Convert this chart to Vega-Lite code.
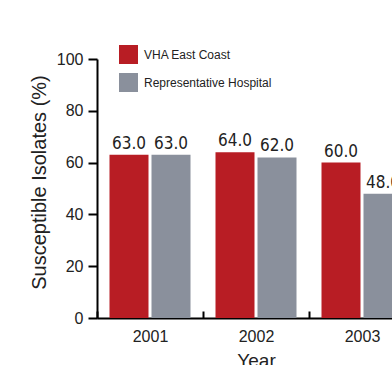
{
  "$schema": "https://vega.github.io/schema/vega-lite/v6.json",
  "autosize": "none",
  "width": 295,
  "height": 259,
  "padding": {"left": 97, "top": 59, "right": 0, "bottom": 47},
  "background": "white",
  "data": {
    "values": [
      {"year": "2001", "series": "VHA East Coast", "value": 63.0},
      {"year": "2001", "series": "Representative Hospital", "value": 63.0},
      {"year": "2002", "series": "VHA East Coast", "value": 64.0},
      {"year": "2002", "series": "Representative Hospital", "value": 62.0},
      {"year": "2003", "series": "VHA East Coast", "value": 60.0},
      {"year": "2003", "series": "Representative Hospital", "value": 48.0}
    ]
  },
  "encoding": {
    "x": {
      "field": "year",
      "type": "nominal",
      "scale": {"range": [0, 318], "paddingInner": 0, "paddingOuter": 0},
      "axis": {
        "title": "Year",
        "labelAngle": 0,
        "tickBand": "extent",
        "tickSize": -7,
        "labelPadding": 17,
        "titlePadding": 7,
        "titleFontSize": 19
      }
    },
    "xOffset": {
      "field": "series",
      "type": "nominal",
      "sort": ["VHA East Coast", "Representative Hospital"],
      "scale": {"paddingInner": 0.0714, "paddingOuter": 0.2976}
    },
    "y": {
      "field": "value",
      "type": "quantitative",
      "scale": {"domain": [0, 100], "nice": false},
      "axis": {
        "title": "Susceptible Isolates (%)",
        "values": [0, 20, 40, 60, 80, 100],
        "tickSize": 9,
        "labelPadding": 5,
        "titlePadding": 7,
        "titleFontSize": 20,
        "titleY": 123,
        "grid": false
      }
    }
  },
  "layer": [
    {
      "mark": {"type": "bar"},
      "encoding": {
        "color": {
          "field": "series",
          "type": "nominal",
          "scale": {
            "domain": ["VHA East Coast", "Representative Hospital"],
            "range": ["#B81D24", "#8A909C"]
          },
          "legend": {
            "title": null,
            "orient": "none",
            "legendX": 22,
            "legendY": -14,
            "symbolType": "square",
            "symbolSize": 361,
            "symbolStrokeWidth": 0,
            "rowPadding": 9,
            "labelOffset": 6,
            "labelFont": "Liberation Sans",
            "labelFontSize": 12,
            "labelColor": "#222222"
          }
        }
      }
    },
    {
      "mark": {
        "type": "text",
        "baseline": "alphabetic",
        "dy": -6,
        "font": "DejaVu Sans Condensed",
        "fontSize": 17,
        "color": "#222222"
      },
      "encoding": {
        "text": {"field": "value", "type": "quantitative", "format": ".1f"}
      }
    }
  ],
  "config": {
    "view": {"stroke": null},
    "axis": {
      "domainColor": "#000000",
      "domainWidth": 2,
      "tickColor": "#000000",
      "tickWidth": 2,
      "labelFont": "Liberation Sans",
      "labelFontSize": 16,
      "labelColor": "#222222",
      "titleFont": "Liberation Sans",
      "titleFontWeight": "normal",
      "titleColor": "#222222"
    }
  }
}
